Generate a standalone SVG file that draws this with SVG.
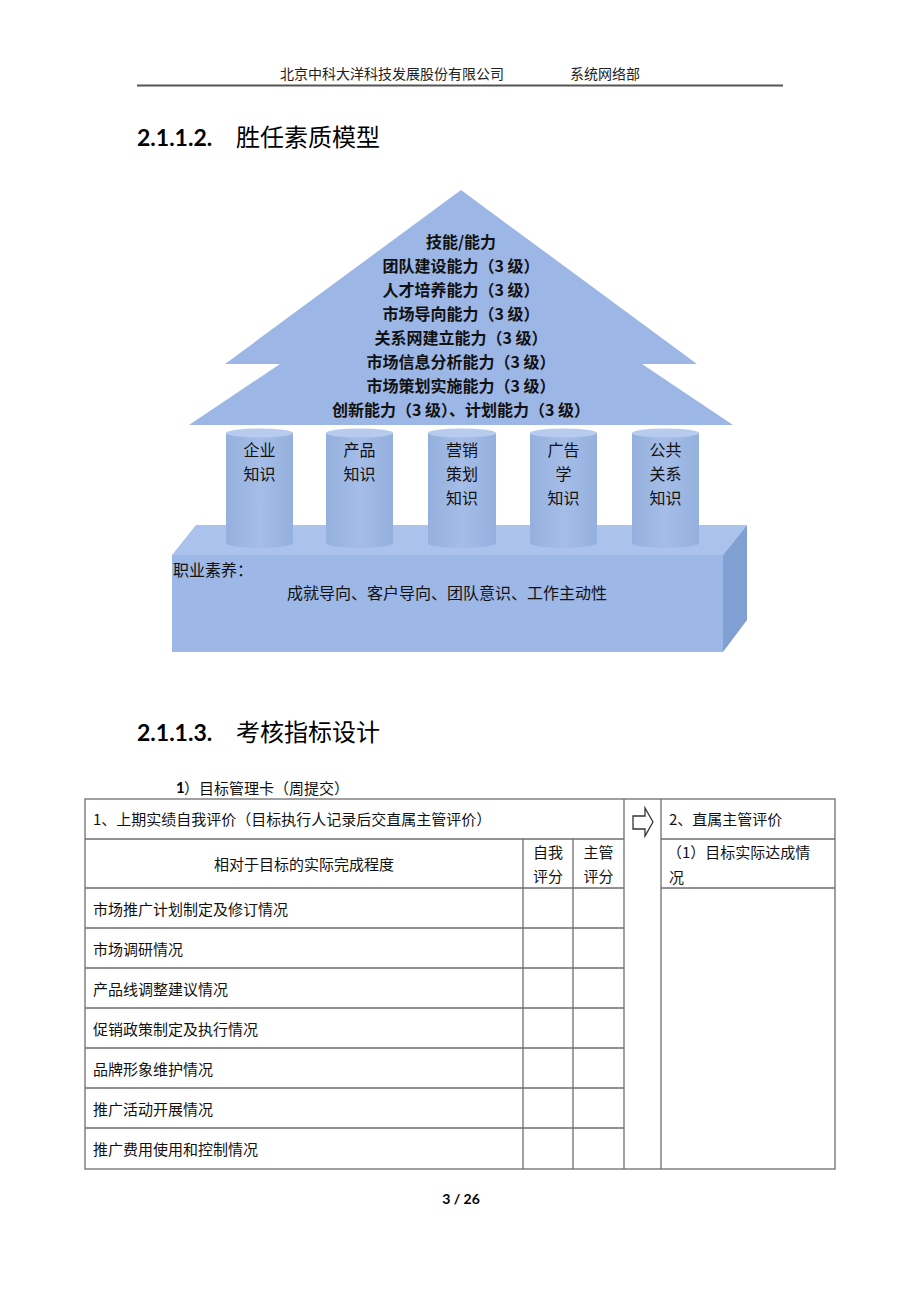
<svg xmlns="http://www.w3.org/2000/svg" width="920" height="1302" viewBox="0 0 920 1302">
<style>
.cjk{font-family:"Noto Sans CJK SC","Liberation Sans",sans-serif;fill:#000}
.hd{font-family:"Noto Sans CJK SC",sans-serif;font-size:14px;fill:#222}
.num{font-family:"Lato","Liberation Sans",sans-serif;font-weight:bold;fill:#000}
.roof{font-family:"Noto Sans CJK SC",sans-serif;font-weight:bold;font-size:16px;fill:#111}
.cyl{font-family:"Noto Sans CJK SC",sans-serif;font-size:16px;fill:#111}
.tb{font-family:"Noto Sans CJK SC",sans-serif;font-size:15px;fill:#111}
.ln{stroke:#6e6e6e;stroke-width:1.3;fill:none}
</style>
<defs>
<linearGradient id="cg" x1="0" x2="1" y1="0" y2="0">
<stop offset="0" stop-color="#95b0de"/>
<stop offset="0.5" stop-color="#a5bde7"/>
<stop offset="1" stop-color="#95b0de"/>
</linearGradient>
</defs>
<rect width="920" height="1302" fill="#fff"/>

<g id="header">
<text class="hd" x="392" y="79" text-anchor="middle">北京中科大洋科技发展股份有限公司</text>
<text class="hd" x="605" y="79" text-anchor="middle">系统网络部</text>
<line x1="137" y1="85.5" x2="783" y2="85.5" stroke="#555" stroke-width="2"/>
</g>

<g id="heading1">
<text class="num" x="137" y="146" font-size="23">2.1.1.2.</text>
<text class="cjk" x="236" y="146" font-size="24">胜任素质模型</text>
</g>

<g id="box">
<polygon points="172,555 196,525 747,525 723,555" fill="#abc2ec"/>
<polygon points="723,555 747,525 747,620 723,652" fill="#809fd2"/>
<rect x="172" y="555" width="551" height="97" fill="#9db7e7"/>
<text class="cyl" x="173" y="569" dominant-baseline="central">职业素养：</text>
<text class="cyl" x="447" y="592" text-anchor="middle" dominant-baseline="central">成就导向、客户导向、团队意识、工作主动性</text>
</g>

<g id="roof">
<polygon points="461,190 697,364 642,364 733,425 189,425 280,364 225,364" fill="#9cb6e6"/>
<text class="roof" x="461" y="241" text-anchor="middle" dominant-baseline="central">技能/能力</text>
<text class="roof" x="461" y="265" text-anchor="middle" dominant-baseline="central">团队建设能力（3 级）</text>
<text class="roof" x="461" y="289" text-anchor="middle" dominant-baseline="central">人才培养能力（3 级）</text>
<text class="roof" x="461" y="313" text-anchor="middle" dominant-baseline="central">市场导向能力（3 级）</text>
<text class="roof" x="461" y="337" text-anchor="middle" dominant-baseline="central">关系网建立能力（3 级）</text>
<text class="roof" x="461" y="361" text-anchor="middle" dominant-baseline="central">市场信息分析能力（3 级）</text>
<text class="roof" x="461" y="385" text-anchor="middle" dominant-baseline="central">市场策划实施能力（3 级）</text>
<text class="roof" x="461" y="409" text-anchor="middle" dominant-baseline="central">创新能力（3 级）、计划能力（3 级）</text>
</g>

<g id="cyl1">
<path d="M226,433 L226,543 A33.5,5 0 0 0 293,543 L293,433 Z" fill="url(#cg)"/>
<ellipse cx="259.5" cy="433" rx="33.5" ry="4.5" fill="#b7cbef"/>
<text class="cyl" x="259.5" y="449" text-anchor="middle" dominant-baseline="central">企业</text>
<text class="cyl" x="259.5" y="473" text-anchor="middle" dominant-baseline="central">知识</text>
</g>
<g id="cyl2">
<path d="M326,433 L326,543 A33.5,5 0 0 0 393,543 L393,433 Z" fill="url(#cg)"/>
<ellipse cx="359.5" cy="433" rx="33.5" ry="4.5" fill="#b7cbef"/>
<text class="cyl" x="359.5" y="449" text-anchor="middle" dominant-baseline="central">产品</text>
<text class="cyl" x="359.5" y="473" text-anchor="middle" dominant-baseline="central">知识</text>
</g>
<g id="cyl3">
<path d="M428,433 L428,543 A34,5 0 0 0 496,543 L496,433 Z" fill="url(#cg)"/>
<ellipse cx="462" cy="433" rx="34" ry="4.5" fill="#b7cbef"/>
<text class="cyl" x="462" y="449" text-anchor="middle" dominant-baseline="central">营销</text>
<text class="cyl" x="462" y="473" text-anchor="middle" dominant-baseline="central">策划</text>
<text class="cyl" x="462" y="497" text-anchor="middle" dominant-baseline="central">知识</text>
</g>
<g id="cyl4">
<path d="M530,433 L530,543 A33.5,5 0 0 0 597,543 L597,433 Z" fill="url(#cg)"/>
<ellipse cx="563.5" cy="433" rx="33.5" ry="4.5" fill="#b7cbef"/>
<text class="cyl" x="563.5" y="449" text-anchor="middle" dominant-baseline="central">广告</text>
<text class="cyl" x="563.5" y="473" text-anchor="middle" dominant-baseline="central">学</text>
<text class="cyl" x="563.5" y="497" text-anchor="middle" dominant-baseline="central">知识</text>
</g>
<g id="cyl5">
<path d="M632,433 L632,543 A33.5,5 0 0 0 699,543 L699,433 Z" fill="url(#cg)"/>
<ellipse cx="665.5" cy="433" rx="33.5" ry="4.5" fill="#b7cbef"/>
<text class="cyl" x="665.5" y="449" text-anchor="middle" dominant-baseline="central">公共</text>
<text class="cyl" x="665.5" y="473" text-anchor="middle" dominant-baseline="central">关系</text>
<text class="cyl" x="665.5" y="497" text-anchor="middle" dominant-baseline="central">知识</text>
</g>

<g id="heading2">
<text class="num" x="137" y="741" font-size="23">2.1.1.3.</text>
<text class="cjk" x="236" y="741" font-size="24">考核指标设计</text>
</g>

<g id="subtitle">
<text class="num" x="176" y="787" font-size="15" dominant-baseline="central">1</text>
<text class="tb" x="184" y="787" dominant-baseline="central">）目标管理卡（周提交）</text>
</g>

<g id="table">
<rect class="ln" x="85" y="799" width="750" height="370"/>
<line class="ln" x1="624" y1="799" x2="624" y2="1169"/>
<line class="ln" x1="661" y1="799" x2="661" y2="1169"/>
<line class="ln" x1="85" y1="839" x2="624" y2="839"/>
<line class="ln" x1="661" y1="839" x2="835" y2="839"/>
<line class="ln" x1="661" y1="888" x2="835" y2="888"/>
<line class="ln" x1="523" y1="839" x2="523" y2="1169"/>
<line class="ln" x1="573" y1="839" x2="573" y2="1169"/>
<line class="ln" x1="85" y1="888" x2="624" y2="888"/>
<line class="ln" x1="85" y1="928" x2="624" y2="928"/>
<line class="ln" x1="85" y1="968" x2="624" y2="968"/>
<line class="ln" x1="85" y1="1008" x2="624" y2="1008"/>
<line class="ln" x1="85" y1="1048" x2="624" y2="1048"/>
<line class="ln" x1="85" y1="1088" x2="624" y2="1088"/>
<line class="ln" x1="85" y1="1128" x2="624" y2="1128"/>
<text class="tb" x="93" y="818" dominant-baseline="central">1、上期实绩自我评价（目标执行人记录后交直属主管评价）</text>
<text class="tb" x="304" y="863" text-anchor="middle" dominant-baseline="central">相对于目标的实际完成程度</text>
<text class="tb" x="548" y="851" text-anchor="middle" dominant-baseline="central">自我</text>
<text class="tb" x="548" y="875" text-anchor="middle" dominant-baseline="central">评分</text>
<text class="tb" x="598.5" y="851" text-anchor="middle" dominant-baseline="central">主管</text>
<text class="tb" x="598.5" y="875" text-anchor="middle" dominant-baseline="central">评分</text>
<text class="tb" x="669" y="818" dominant-baseline="central">2、直属主管评价</text>
<text class="tb" x="667" y="851" dominant-baseline="central">（1）目标实际达成情</text>
<text class="tb" x="669" y="876" dominant-baseline="central">况</text>
<text class="tb" x="93" y="908" dominant-baseline="central">市场推广计划制定及修订情况</text>
<text class="tb" x="93" y="948" dominant-baseline="central">市场调研情况</text>
<text class="tb" x="93" y="988" dominant-baseline="central">产品线调整建议情况</text>
<text class="tb" x="93" y="1028" dominant-baseline="central">促销政策制定及执行情况</text>
<text class="tb" x="93" y="1068" dominant-baseline="central">品牌形象维护情况</text>
<text class="tb" x="93" y="1108" dominant-baseline="central">推广活动开展情况</text>
<text class="tb" x="93" y="1148" dominant-baseline="central">推广费用使用和控制情况</text>
</g>

<g id="arrow">
<polygon points="633,816 645,816 645,808 653,822 645,836 645,829 633,829" fill="#fff" stroke="#333" stroke-width="1.3"/>
</g>

<g id="footer">
<text class="num" x="461" y="1204" font-size="14" text-anchor="middle">3 / 26</text>
</g>
</svg>
